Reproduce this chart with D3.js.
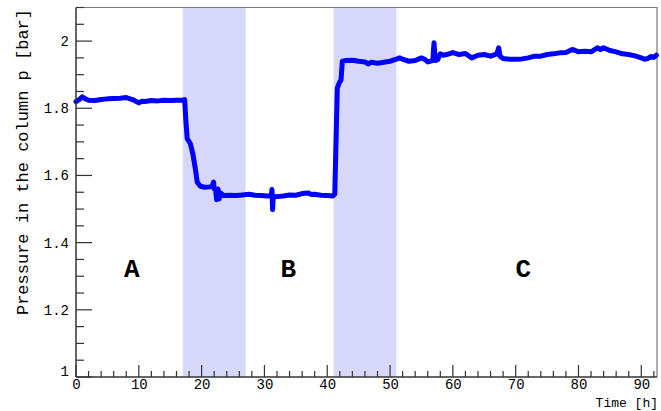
<!DOCTYPE html>
<html>
<head>
<meta charset="utf-8">
<script src="https://cdn.jsdelivr.net/npm/d3@7"></script>
<style>
  html, body { margin: 0; padding: 0; background: #fff; }
  svg { display: block; }
  text { font-family: "Liberation Mono", "DejaVu Sans Mono", monospace; fill: #000; }
</style>
</head>
<body>
<svg id="chart" width="661" height="411"></svg>
<script>
// ---- data ----
const timeH = [0, 0.5, 1, 1.5, 2, 3, 4, 5, 6, 7, 8, 9, 10, 10.5, 11, 12, 13, 14, 15, 16, 17, 17.3,
  17.5, 17.7, 18.2, 18.6, 19, 19.3, 19.8, 20.5, 21.2, 21.7, 21.9, 22.0, 22.2, 22.4, 22.6, 22.8, 23.0,
  23.5, 24.5, 25.5, 26.5, 27.5, 28.5, 29.5, 30.5, 31.1, 31.2, 31.3, 31.4, 32, 33, 34, 35, 36, 37, 37.5,
  38, 39, 40, 40.9, 41.2, 41.6, 41.9, 42.2, 42.4, 43, 44, 45, 46, 46.5, 47, 48, 49, 50, 51, 51.5, 52,
  53, 54, 55, 55.5, 56, 56.8, 57.0, 57.2, 57.6, 58, 58.5, 59, 60, 61, 62, 63, 64, 65, 66, 67, 67.3,
  67.5, 68, 69, 70, 71, 72, 73, 74, 75, 76, 77, 78, 79, 79.5, 80, 81, 82, 83, 83.5, 84, 85, 86, 87,
  88, 89, 90, 90.5, 91, 91.5, 92, 92.4];
const pressureBar = [1.820, 1.826, 1.834, 1.828, 1.824, 1.823, 1.826, 1.828, 1.829, 1.830, 1.832,
  1.826, 1.816, 1.821, 1.820, 1.823, 1.822, 1.824, 1.823, 1.824, 1.824, 1.826,
  1.760, 1.710, 1.695, 1.665, 1.620, 1.580, 1.568, 1.565, 1.566, 1.568, 1.580, 1.560, 1.560, 1.528,
  1.560, 1.530, 1.548,
  1.540, 1.541, 1.540, 1.542, 1.544, 1.541, 1.540, 1.539, 1.540, 1.558, 1.498, 1.538, 1.537, 1.539,
  1.542, 1.541, 1.546, 1.548, 1.543,
  1.544, 1.541, 1.540, 1.539, 1.545, 1.860, 1.875, 1.885, 1.940, 1.942, 1.943, 1.940, 1.938, 1.932,
  1.937, 1.934, 1.937, 1.940, 1.946, 1.950, 1.946,
  1.940, 1.942, 1.950, 1.946, 1.938, 1.942, 1.995, 1.942, 1.945, 1.962, 1.958, 1.960, 1.966, 1.960,
  1.963, 1.950, 1.958, 1.960, 1.955, 1.962, 1.980,
  1.955, 1.948, 1.946, 1.946, 1.947, 1.950, 1.955, 1.955, 1.960, 1.962, 1.965, 1.966, 1.975, 1.972,
  1.968, 1.970, 1.968, 1.980, 1.975, 1.980, 1.972, 1.968, 1.962,
  1.960, 1.956, 1.950, 1.946, 1.948, 1.954, 1.952, 1.958];
const bandStart = [17, 41];
const bandEnd = [27, 51];
const regionLabels = ["A", "B", "C"];
const regionLabelTime = [8.9, 33.8, 71.2];
const xTickValues = [0, 10, 20, 30, 40, 50, 60, 70, 80, 90];
const yTickValues = [1, 1.2, 1.4, 1.6, 1.8, 2];
const yTickLabels = ["1", "1.2", "1.4", "1.6", "1.8", "2"];
const xTitle = "Time [h]";
const yTitle = "Pressure in the column p [bar]";

// ---- layout ----
const L = 76, R = 657, T = 7.5, B = 377;
const svg = d3.select("#chart");
const x = d3.scaleLinear().domain([0, 92.5]).range([L, R]);
const y = d3.scaleLinear().domain([1, 2.1]).range([B, T]);

// shaded bands
svg.append("g").selectAll("rect").data(bandStart).join("rect")
  .attr("x", (d) => x(d))
  .attr("width", (d, i) => x(bandEnd[i]) - x(d))
  .attr("y", T).attr("height", B - T)
  .attr("fill", "#d7d7fa");

// frame (top / right)
svg.append("path")
  .attr("d", `M${L},${T}H${R}V${B}`)
  .attr("fill", "none").attr("stroke", "#777").attr("stroke-width", 1.2);

// data line
const pts = timeH.map((t, i) => [t, pressureBar[i]]);
svg.append("path")
  .datum(pts)
  .attr("d", d3.line().x((d) => x(d[0])).y((d) => y(d[1])))
  .attr("fill", "none").attr("stroke", "#0000ff")
  .attr("stroke-width", 5).attr("stroke-linejoin", "round").attr("stroke-linecap", "round");

// axes
const axColor = "#333";
const xMinor = d3.range(0, 92.5, 2).filter((v) => v % 10 !== 0);
const yMinor = d3.range(1, 2.1001, 0.05).filter((v) => Math.abs(v * 5 - Math.round(v * 5)) > 1e-6);

const gx = svg.append("g").attr("transform", `translate(0,${B})`);
gx.call(d3.axisBottom(x).tickValues(xTickValues).tickSize(0).tickPadding(0).tickFormat(d3.format("d")));
gx.select(".domain").remove();
gx.selectAll(".tick text").attr("font-size", 14).attr("y", 2).attr("dy", "0.71em")
  .attr("font-family", "Liberation Mono, DejaVu Sans Mono, monospace").attr("fill", "#000");
gx.selectAll("line.maj").data(xTickValues).join("line").attr("class", "maj")
  .attr("x1", (d) => x(d)).attr("x2", (d) => x(d)).attr("y1", 0).attr("y2", -12)
  .attr("stroke", axColor).attr("stroke-width", 1.2);
gx.selectAll("line.min").data(xMinor).join("line").attr("class", "min")
  .attr("x1", (d) => x(d)).attr("x2", (d) => x(d)).attr("y1", 0).attr("y2", -6)
  .attr("stroke", axColor).attr("stroke-width", 1.2);
gx.append("line").attr("x1", L).attr("x2", R).attr("stroke", axColor).attr("stroke-width", 1.5);

const gy = svg.append("g").attr("transform", `translate(${L},0)`);
gy.call(d3.axisLeft(y).tickValues(yTickValues).tickSize(0).tickPadding(7)
  .tickFormat((d, i) => yTickLabels[i]));
gy.select(".domain").remove();
gy.selectAll(".tick text").attr("font-size", 14)
  .attr("font-family", "Liberation Mono, DejaVu Sans Mono, monospace").attr("fill", "#000");
gy.selectAll(".tick text").filter((d) => d === 1).attr("dy", "-0.1em");
gy.selectAll("line.maj").data(yTickValues).join("line").attr("class", "maj")
  .attr("y1", (d) => y(d)).attr("y2", (d) => y(d)).attr("x1", 0).attr("x2", 16)
  .attr("stroke", axColor).attr("stroke-width", 1.2);
gy.selectAll("line.min").data(yMinor).join("line").attr("class", "min")
  .attr("y1", (d) => y(d)).attr("y2", (d) => y(d)).attr("x1", 0).attr("x2", 8)
  .attr("stroke", axColor).attr("stroke-width", 1.2);
gy.append("line").attr("y1", T).attr("y2", B).attr("stroke", axColor).attr("stroke-width", 1.5);

// titles
svg.append("text").attr("x", R + 1).attr("y", 407).attr("text-anchor", "end")
  .attr("font-size", 13).text(xTitle);
svg.append("text").attr("transform", `translate(28,9) rotate(-90)`).attr("text-anchor", "end")
  .attr("font-size", 17).text(yTitle);

// region labels
svg.append("g").selectAll("text").data(regionLabels).join("text")
  .attr("x", (d, i) => x(regionLabelTime[i])).attr("y", 277)
  .attr("text-anchor", "middle").attr("font-size", 26).attr("font-weight", "bold")
  .text((d) => d);
</script>
</body>
</html>
